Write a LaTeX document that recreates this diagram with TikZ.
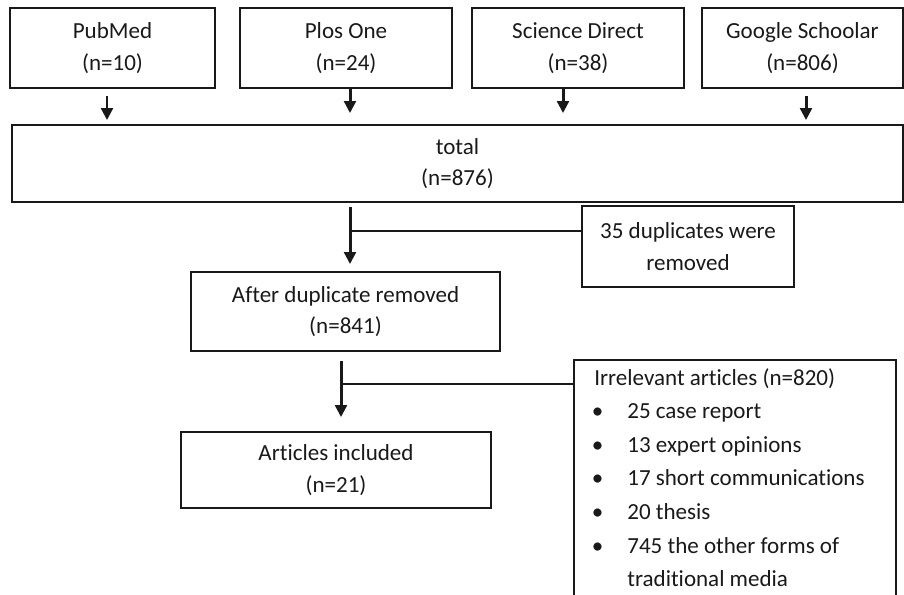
\documentclass[tikz,border=0pt]{standalone}
\usepackage{fontspec}
\setmainfont{Carlito}[Ligatures=NoCommon]
\usepackage{tikz}
\usetikzlibrary{arrows.meta}
\definecolor{inkgray}{RGB}{25, 25, 25}

\newcommand{\bul}{\makebox[0.66cm][l]{\hspace*{-0.05cm}\textbullet}}

\tikzset{
    flowbox/.style  = {draw=inkgray, line width=1pt, align=center, inner sep=0pt,
                       text=inkgray, font={\fontsize{13.1}{18}\selectfont}},
    flowarrow/.style = {draw=inkgray, line width=1.7pt,
                        -{Triangle[width=6.6pt, length=6.8pt]}},
    sideline/.style = {draw=inkgray, line width=1.7pt}
}

\begin{document}
\begin{tikzpicture}
            % Frame to fix the page size:
            \useasboundingbox (0.00, 0.00) rectangle (18.08, -11.90);
            \clip             (0.00, 0.00) rectangle (18.08, -11.90);
            % Sources
            \node[flowbox, minimum width=4.10cm, minimum height=1.60cm] (pubmed)  at ( 2.25, -0.96) {PubMed\\(n=10)};
            \node[flowbox, minimum width=4.24cm, minimum height=1.60cm] (plos)    at ( 6.92, -0.96) {Plos One\\(n=24)};
            \node[flowbox, minimum width=4.24cm, minimum height=1.60cm] (science) at (11.56, -0.96) {Science Direct\\(n=38)};
            \node[flowbox, minimum width=4.02cm, minimum height=1.60cm] (google)  at (16.05, -0.96) {Google Schoolar\\(n=806)};
            % Pooled records
            \node[flowbox, minimum width=17.82cm, minimum height=1.54cm] (total)  at ( 9.15, -3.27) {total\\(n=876)};
            \node[flowbox, minimum width=4.24cm, minimum height=1.62cm] (dup)     at (13.76, -4.93) {35 duplicates were\\removed};
            \node[flowbox, minimum width=6.18cm, minimum height=1.58cm] (after)   at ( 6.91, -6.23) {After duplicate removed\\(n=841)};
            \node[flowbox, minimum width=6.20cm, minimum height=1.52cm] (incl)    at ( 6.72, -9.40) {Articles included\\(n=21)};
            % Excluded articles (box runs off the page bottom)
            \node[flowbox, anchor=north west, minimum width=6.44cm, minimum height=5.20cm] (irr) at (11.46, -7.18) {};
            \node[anchor=north west, align=left, inner sep=0pt, text=inkgray,
                  font={\fontsize{13.1}{19.1}\selectfont}] (irrlist) at (11.88, -7.36)
                 {Irrelevant articles (n=820)\\
                  \bul 25 case report\\
                  \bul 13 expert opinions\\
                  \bul 17 short communications\\
                  \bul 20 thesis\\
                  \bul 745 the other forms of\\
                  \hspace*{0.66cm}traditional media};
            % Arrows into total
            \draw[flowarrow, shorten <=0.14cm, shorten >=0.08cm] ([xshift=-0.11cm]pubmed.south)  -- ([xshift=-0.11cm]pubmed.south  |- total.north);
            \draw[flowarrow,                   shorten >=0.22cm] ([xshift= 0.08cm]plos.south)    -- ([xshift= 0.08cm]plos.south    |- total.north);
            \draw[flowarrow,                   shorten >=0.22cm] ([xshift=-0.30cm]science.south) -- ([xshift=-0.30cm]science.south |- total.north);
            \draw[flowarrow, shorten <=0.14cm, shorten >=0.08cm] ([xshift= 0.07cm]google.south)  -- ([xshift= 0.07cm]google.south  |- total.north);
            % Duplicates step
            \coordinate (split1) at (7.00, -4.62);
            \draw[flowarrow, shorten <=0.08cm, shorten >=0.14cm] (split1 |- total.south) -- (split1 |- after.north);
            \draw[sideline] (split1) -- (split1 -| dup.west);
            % Screening step
            \coordinate (split2) at (6.82, -7.68);
            \draw[flowarrow, shorten <=0.18cm, shorten >=0.28cm] (split2 |- after.south) -- (split2 |- incl.north);
            \draw[sideline] (split2) -- (split2 -| irr.west);
\end{tikzpicture}
\end{document}
